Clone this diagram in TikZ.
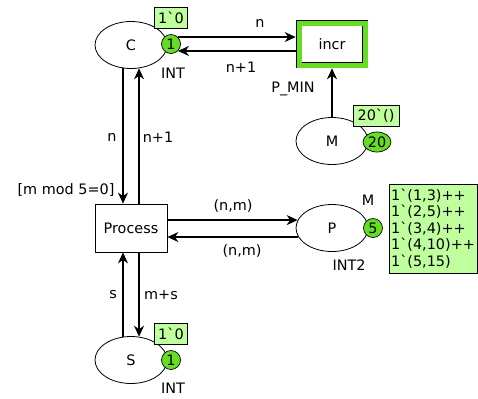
\documentclass[tikz,border=0pt]{standalone}
\usepackage{fontspec}
\setmainfont{DejaVu Sans}
\usetikzlibrary{arrows.meta, shapes.geometric}
\definecolor{cToken}{HTML}{66DD22}
\definecolor{cMark}{HTML}{C0FF9E}
\newcommand{\grv}{\textasciigrave}

\begin{document}
\begin{tikzpicture}[
    x=1bp, y=-1bp, font=\fontsize{14.4bp}{16.6bp}\selectfont,
    place/.style={draw, ellipse, line width=0.8bp, minimum width=72bp,
                  minimum height=47bp, inner sep=0pt},
    trans/.style={draw, rectangle, line width=0.8bp, minimum width=72bp,
                  minimum height=48bp},
    hot/.style={draw=black, double=cToken, double distance=5bp,
                line width=0.8bp, fill=white, minimum width=66bp,
                minimum height=42bp, outer sep=3.3bp},
    tok/.style={draw, circle, fill=cToken, line width=0.7bp,
                minimum size=19bp, inner sep=0pt},
    marking/.style={draw, fill=cMark, line width=0.7bp, inner sep=2bp,
                 minimum height=21bp},
    arc/.style={-{Stealth[length=11bp, width=10bp, inset=3.5bp]},
                line width=1.2bp},
    lbl/.style={inner sep=1bp},
]
\useasboundingbox (0,0) rectangle (478,398);

% ===================== Places =====================
\node[place] (C) at (131,45) {C};
\node[place] (M) at (332,141) {M};
\node[place] (P) at (332,228) {P};
\node[place] (S) at (131,360) {S};

% ===================== Transitions =====================
\node[hot] (incr) at (332,44) {incr};
\node[trans] (Process) at (131,228) {Process};

% ===================== Marcas y tipos =====================
\node[tok] (tokC) at (171,44) {1};
\node[marking, minimum width=33bp] (markC) at (171,18) {1\grv0};
\node[lbl] (typC) at (173,73) {INT};

\node[tok, ellipse, minimum width=28bp, minimum height=20bp] (tokM) at (377,142) {20};
\node[marking, minimum width=46bp] (markM) at (376,116) {20\grv()};

\node[tok] (tokP) at (373,228) {5};
\node[lbl] (nameP) at (368,200) {M};
\node[lbl] (typP) at (349,265) {INT2};
\node[marking, align=left, minimum width=88bp, minimum height=89bp] (markP)
      at (433,228.5) {1\grv(1,3)++\\1\grv(2,5)++\\1\grv(3,4)++\\1\grv(4,10)++\\1\grv(5,15)};

\node[tok] (tokS) at (171,360) {1};
\node[marking, minimum width=33bp] (markS) at (171,333.5) {1\grv0};
\node[lbl] (typS) at (173,388) {INT};

% ===================== Arcos =====================
\draw[arc] (tokC.45) -- (tokC.45 -| incr.west);
\draw[arc] (incr.west |- tokC.-45) -- (tokC.-45);
\draw[arc] (M.north) -- (incr.south);

\draw[arc] (C.251) -- (C.251 |- Process.north);
\draw[arc] (C.289 |- Process.north) -- (C.289);

\draw[arc] (P.167 -| Process.east) -- (P.167);
\draw[arc] (P.195) -- (P.195 -| Process.east);

\draw[arc] (S.109) -- (S.109 |- Process.south);
\draw[arc] (S.71 |- Process.south) -- (S.71);

% ===================== Inscripciones =====================
\node[lbl] (iCn) at (260,23) {n};
\node[lbl] (iCn1) at (241,67) {n+1};
\node[lbl] (iMin) at (293,89) {P\_MIN};
\node[lbl] (iPn) at (112,137) {n};
\node[lbl] (iPn1) at (158,137) {n+1};
\node[lbl] (guard) at (66,190) {[m mod 5=0]};
\node[lbl] (iNm1) at (233,206) {(n,m)};
\node[lbl] (iNm2) at (242,251) {(n,m)};
\node[lbl] (iS) at (113,295) {s};
\node[lbl] (iMs) at (161,295) {m+s};

\end{tikzpicture}
\end{document}
